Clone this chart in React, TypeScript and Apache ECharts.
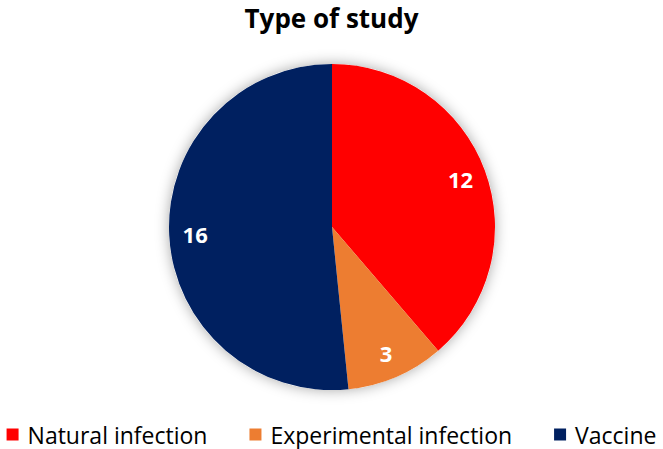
import React, { useEffect, useRef } from "react";
import * as echarts from "echarts";

const categories = ["Natural infection", "Experimental infection", "Vaccine"];
const values = [12, 3, 16];
const colors = ["#FF0000", "#ED7D31", "#002060"];
const titleText = "Type of study";

export default function App() {
  const ref = useRef<HTMLDivElement>(null);
  useEffect(() => {
    document.body.style.margin = "0";
    const chart = echarts.init(ref.current!, undefined, { renderer: "svg" });
    const data = categories.map((name, i) => ({
      name,
      value: values[i],
      itemStyle: { color: colors[i] },
    }));
    const total = values.reduce((a, b) => a + b, 0);
    const font = "'Open Sans', 'Liberation Sans', sans-serif";
    chart.setOption({
      animation: false,
      backgroundColor: "#ffffff",
      title: {
        text: titleText,
        left: "center",
        top: 0,
        textStyle: { fontFamily: font, fontWeight: "bold", fontSize: 26, color: "#000" },
      },
      legend: {
        data: categories,
        bottom: -2,
        left: "center",
        icon: "rect",
        itemWidth: 12,
        itemHeight: 12,
        itemGap: 42,
        textStyle: { fontFamily: font, fontSize: 23, color: "#000", padding: [0, 0, 0, 4] },
      },
      series: [
        {
          type: "pie",
          silent: true,
          center: [332, 227],
          radius: [0, 163],
          z: 1,
          label: { show: false },
          labelLine: { show: false },
          itemStyle: {
            color: "#ffffff",
            shadowBlur: 14,
            shadowColor: "rgba(0,0,0,0.35)",
          },
          data: [{ name: "_bg", value: total }],
          legendHoverLink: false,
        },
        {
          type: "pie",
          name: titleText,
          center: [332, 227],
          radius: [0, 163],
          startAngle: 90,
          clockwise: true,
          z: 2,
          label: { show: false },
          labelLine: { show: false },
          data,
        },
        {
          type: "pie",
          silent: true,
          center: [332, 227],
          radius: [100, 168],
          startAngle: 90,
          clockwise: true,
          z: 3,
          itemStyle: { color: "rgba(0,0,0,0)" },
          label: {
            show: true,
            position: "inside",
            formatter: "{c}",
            color: "#ffffff",
            fontFamily: font,
            fontWeight: "bold",
            fontSize: 22,
          },
          labelLine: { show: false },
          data: categories.map((name, i) => ({ name, value: values[i] })),
        },
      ],
    });
    return () => chart.dispose();
  }, []);
  return <div ref={ref} style={{ width: 663, height: 449 }} />;
}
